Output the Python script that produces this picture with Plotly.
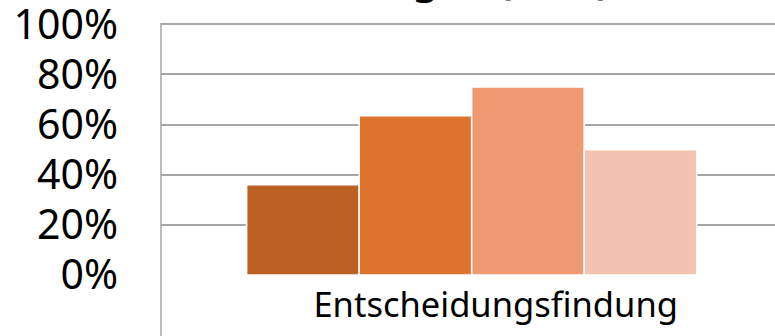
import plotly.graph_objects as go

categories = ["Entscheidungsfindung"]
series_names = ["Gruppe 1", "Gruppe 2", "Gruppe 3", "Gruppe 4"]
series_values = [[0.36], [0.635], [0.75], [0.50]]
series_colors = ["#BB6123", "#DE742D", "#F09A72", "#F4C2B1"]
y_tick0 = 0
y_dtick = 0.2
y_max = 1.005
title_text = "Bewertungen (in %)"

fig = go.Figure()
for name, vals, col in zip(series_names, series_values, series_colors):
    fig.add_trace(go.Bar(
        x=[0], y=vals, name=name,
        marker=dict(color=col, line=dict(color="white", width=1.5)),
        showlegend=False,
    ))

grid = "#A6A6A6"
fig.update_layout(
    width=775, height=336,
    margin=dict(l=161, r=0, t=23, b=61, autoexpand=False),
    paper_bgcolor="white", plot_bgcolor="white",
    barmode="group", bargap=0.267, bargroupgap=0,
    font=dict(family="Noto Sans", color="black"),
    xaxis=dict(
        range=[-0.506, 0.494], automargin=False,
        tickvals=[0], ticktext=categories,
        tickfont=dict(size=34.5, color="black"),
        ticks="", showgrid=False, zeroline=False, showline=False,
        ticklabelshift=24, ticklabelstandoff=6,
    ),
    yaxis=dict(
        range=[0, y_max], autorange=False, automargin=False,
        tickmode="linear", tick0=y_tick0, dtick=y_dtick, tickformat=".0%",
        tickfont=dict(size=41, color="black"),
        ticks="", ticklabelstandoff=42, ticklabeloverflow="allow",
        showgrid=True, gridcolor=grid, gridwidth=1.5,
        zeroline=False, showline=False,
    ),
    shapes=[dict(type="line", xref="paper", yref="paper",
                 x0=0, x1=0, y0=1, y1=-0.3,
                 line=dict(color=grid, width=1.5), layer="below")],
    annotations=[dict(
        text="<b>" + title_text + "</b>", xref="paper", yref="paper",
        x=(612 - 161) / 614, y=1.175, xanchor="right", yanchor="middle",
        showarrow=False, font=dict(size=40, color="black", family="Noto Sans"),
    )],
)

fig.write_html("out.html")
